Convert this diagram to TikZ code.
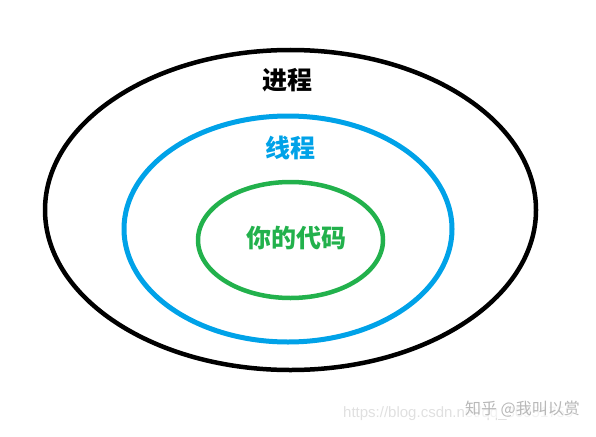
\documentclass[tikz,border=0pt]{standalone}
\usepackage{fontspec}
\setmainfont{Noto Sans CJK SC}
\newfontfamily\urlfont{Liberation Sans}
\usepackage{tikz}
\definecolor{ringblue}{RGB}{0,162,232}
\definecolor{ringgreen}{RGB}{34,177,76}
\newcommand{\ring}[5]{ \draw[#5] ( #1 , #2 ) ellipse [x radius=#3 pt, y radius=#4 pt];}
\newcommand{\ringlabel}[5]{\node[shape=rectangle,draw=none,fill=none, inner sep=0pt, text=#4, font=\bfseries\fontsize{25}{25}\selectfont] (#1) at ( #2 , #3 ) {#5};}

\begin{document}
\begin{tikzpicture}[x=1pt, y=-1pt]
        \useasboundingbox (0,0) rectangle (596,436);
        
        \ring{290.5}{210}{245.5}{160}{black, line width=4.5pt}
        \ring{288}{229}{164}{113}{ringblue, line width=5pt}
        \ring{290.5}{240}{92.5}{58}{ringgreen, line width=4.5pt}
        
        \ringlabel{process}{287}{80}{black}{进程}
        \ringlabel{thread}{290}{148}{ringblue}{线程}
        \ringlabel{code}{296}{238}{ringgreen}{你的代码}
        
        % watermark
        \node[inner sep=0pt, anchor=west, text=black!12, font=\urlfont\fontsize{15}{15}\selectfont] (url) at (343,414) {https://blog.csdn.net/qq\_36951759};
        \node[inner sep=1pt, anchor=east, fill=white, fill opacity=0.6, text opacity=1, text=black!28, font=\fontsize{16}{16}\selectfont] (zhihu) at (581,409) {知乎 @我叫以赏};
    \end{tikzpicture}
\end{document}
